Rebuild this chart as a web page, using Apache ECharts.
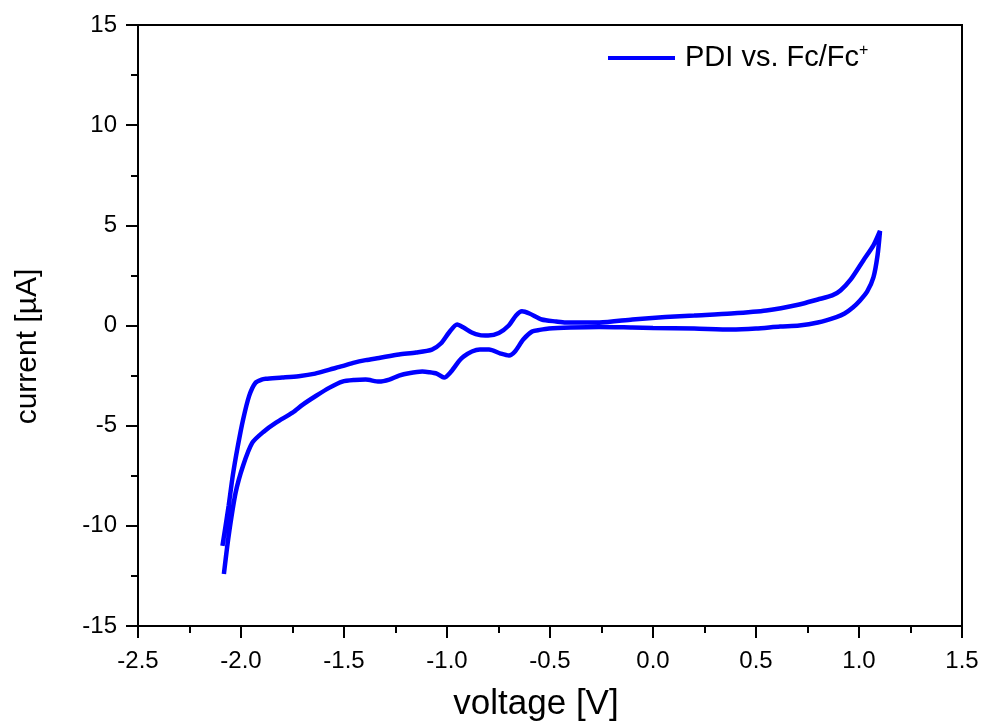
<!DOCTYPE html>
<html>
<head>
<meta charset="utf-8">
<title>PDI cyclic voltammogram</title>
<script src="https://cdn.jsdelivr.net/npm/echarts@6/dist/echarts.min.js"></script>
<style>
  html, body { margin: 0; padding: 0; background: #fff; }
  #chart { width: 983px; height: 722px; }
</style>
</head>
<body>
<div id="chart"></div>
<script>
// reverse sweep (upper branch), from -2.09 V towards +1.10 V
const upperVoltage = [-2.09, -2.06, -2.04, -2.015, -1.99, -1.96, -1.93, -1.90, -1.88, -1.80, -1.72, -1.64, -1.57, -1.508, -1.45, -1.395, -1.33, -1.233, -1.15, -1.073, -1.03, -0.99, -0.951, -0.92, -0.88, -0.84, -0.80, -0.748, -0.70, -0.665, -0.636, -0.60, -0.54, -0.47, -0.424, -0.26, -0.10, 0.06, 0.20, 0.38, 0.55, 0.71, 0.80, 0.87, 0.91, 0.96, 1.021, 1.07, 1.102]
const upperCurrent = [-11.0, -9.0, -7.5, -6.0, -4.7, -3.5, -2.86, -2.7, -2.66, -2.6, -2.53, -2.4, -2.2, -2.03, -1.85, -1.73, -1.62, -1.45, -1.35, -1.2, -0.9, -0.35, 0.05, -0.1, -0.35, -0.48, -0.5, -0.37, 0.0, 0.5, 0.71, 0.6, 0.3, 0.2, 0.15, 0.15, 0.3, 0.42, 0.5, 0.6, 0.75, 1.05, 1.3, 1.5, 1.75, 2.3, 3.25, 4.0, 4.72]

// forward sweep (lower branch), from +1.10 V back to -2.08 V
const lowerVoltage = [1.09, 1.07, 1.04, 1.005, 0.97, 0.93, 0.89, 0.80, 0.71, 0.617, 0.50, 0.38, 0.20, 0.0, -0.10, -0.262, -0.40, -0.505, -0.55, -0.587, -0.63, -0.67, -0.699, -0.74, -0.796, -0.84, -0.879, -0.92, -0.94, -0.98, -1.014, -1.05, -1.087, -1.12, -1.185, -1.233, -1.28, -1.33, -1.395, -1.45, -1.508, -1.57, -1.637, -1.70, -1.75, -1.83, -1.89, -1.945, -1.99, -2.026, -2.06, -2.083]
const lowerCurrent = [3.5, 2.4, 1.7, 1.25, 0.9, 0.6, 0.42, 0.15, 0.0, -0.05, -0.15, -0.2, -0.15, -0.12, -0.1, -0.07, -0.1, -0.15, -0.22, -0.3, -0.7, -1.3, -1.5, -1.4, -1.2, -1.2, -1.3, -1.55, -1.75, -2.3, -2.6, -2.4, -2.33, -2.3, -2.38, -2.5, -2.7, -2.8, -2.7, -2.72, -2.8, -3.1, -3.52, -3.95, -4.35, -4.85, -5.3, -5.85, -7.0, -8.34, -10.5, -12.4]

const seriesName = 'PDI vs. Fc/Fc+'
const baseFont = 'Liberation Sans, Arial, sans-serif'

const loop = []
upperVoltage.forEach((v, i) => loop.push([v, upperCurrent[i]]))
lowerVoltage.forEach((v, i) => loop.push([v, lowerCurrent[i]]))

const myChart = echarts.init(document.getElementById('chart'))
const option = {
  animation: false,
  backgroundColor: '#fff',
  grid: {
    left: 138,
    right: 21,
    top: 25,
    bottom: 96,
    outerBoundsMode: 'none',
    show: true,
    borderColor: '#000',
    borderWidth: 2
  },
  legend: {
    left: 603,
    top: 38,
    icon: 'rect',
    itemWidth: 67,
    itemHeight: 4,
    data: [seriesName],
    formatter: function() {
      return '{t|PDI vs. Fc/Fc}{s|+}'
    },
    textStyle: {
      rich: {
        t: { fontFamily: baseFont, fontSize: 29, color: '#000', padding: [0, 0, 0, 5] },
        s: { fontFamily: baseFont, fontSize: 16, color: '#000', padding: [0, 0, 14, 0] }
      }
    }
  },
  xAxis: {
    type: 'value',
    min: -2.5,
    max: 1.5,
    interval: 0.5,
    name: 'voltage [V]',
    nameLocation: 'middle',
    nameGap: 61,
    nameTextStyle: { fontFamily: baseFont, fontSize: 35, color: '#000', padding: [0, 28, 0, 0] },
    axisLine: { onZero: false, lineStyle: { color: '#000', width: 2 } },
    axisTick: { inside: false, length: 12, lineStyle: { color: '#000', width: 2 } },
    minorTick: { show: true, splitNumber: 2, length: 7, lineStyle: { color: '#000', width: 2 } },
    axisLabel: {
      margin: 23,
      fontFamily: baseFont,
      fontSize: 24,
      color: '#000',
      formatter: v => v.toFixed(1)
    },
    splitLine: { show: false }
  },
  yAxis: {
    type: 'value',
    min: -15,
    max: 15,
    interval: 5,
    name: 'current [µA]',
    nameLocation: 'middle',
    nameGap: 95,
    nameTextStyle: { fontFamily: baseFont, fontSize: 30, color: '#000', padding: [0, 42, 0, 0] },
    axisLine: { onZero: false, lineStyle: { color: '#000', width: 2 } },
    axisTick: { inside: false, length: 12, lineStyle: { color: '#000', width: 2 } },
    minorTick: { show: true, splitNumber: 2, length: 7, lineStyle: { color: '#000', width: 2 } },
    axisLabel: { margin: 21, fontFamily: baseFont, fontSize: 24, color: '#000' },
    splitLine: { show: false }
  },
  series: [
    {
      name: seriesName,
      type: 'line',
      data: loop,
      smooth: 0.25,
      symbol: 'none',
      lineStyle: { color: '#0000ff', width: 4.5 },
      itemStyle: { color: '#0000ff' }
    }
  ]
}

option && myChart.setOption(option)
</script>
</body>
</html>
